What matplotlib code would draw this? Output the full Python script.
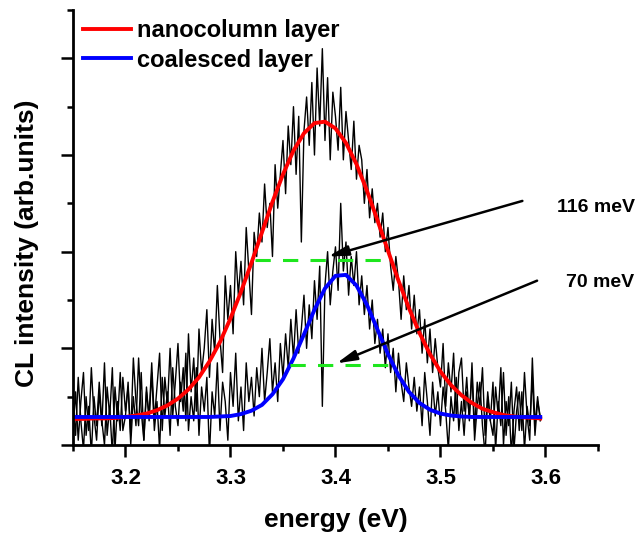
import numpy as np
import matplotlib
matplotlib.use("Agg")
import matplotlib.pyplot as plt
from matplotlib.ticker import MultipleLocator, NullFormatter

plt.rcParams['font.family'] = ['Liberation Sans', 'DejaVu Sans']
plt.rcParams['font.weight'] = 'bold'

# measured spectra, sampled every 2.5 meV from 3.150 to 3.595 eV
energy_raw = np.round(np.arange(179) * 0.0025 + 3.15, 4)

nanocolumn_raw = [
    0.3, 1.1, 0.1, 0.9, 1.5, 0.2, 0.8, -0.2, 1.0, 0.4,
    1.3, 0.5, 0.0, 1.2, 0.6, 1.6, -0.1, 0.9, 0.3, 1.4,
    0.7, 1.2, 0.2, 1.8, 0.9, 0.4, 1.5, 0.1, 1.1, 0.6,
    1.7, 0.5, 1.2, 1.9, 0.3, 1.4, 0.8, 2.0, 0.6, 1.3,
    2.1, 0.9, 1.6, 0.5, 2.3, 1.1, 1.8, 0.7, 2.4, 1.5,
    2.0, 2.8, 1.4, 2.6, 1.9, 3.3, 2.2, 1.5, 3.5, 2.6,
    3.3, 2.3, 4.0, 3.1, 3.8, 2.9, 4.5, 3.6, 2.7, 4.4,
    3.9, 4.8, 4.2, 5.4, 4.5, 5.0, 3.9, 5.8, 4.9, 5.6,
    6.3, 5.2, 6.6, 5.8, 7.0, 5.6, 6.8, 4.2, 6.5, 7.2,
    6.2, 7.5, 6.0, 7.8, 6.6, 8.2, 6.3, 7.6, 5.9, 7.3,
    6.8, 6.1, 7.4, 5.9, 6.9, 6.3, 5.7, 6.7, 5.5, 6.2,
    5.9, 5.0, 5.7, 4.7, 5.3, 4.6, 5.0, 4.3, 4.8, 4.0,
    4.5, 3.7, 3.2, 3.9, 3.4, 2.6, 3.5, 2.8, 3.3, 2.4,
    3.1, 2.3, 2.8, 1.9, 2.6, 1.7, 2.4, 1.5, 2.2, 1.6,
    1.2, 2.1, 0.8, 1.7, 1.1, 1.9, 0.6, 1.5, 1.8, 0.7,
    1.4, 0.5, 1.7, 0.3, 1.3, 0.8, 1.6, 0.2, 1.1, 0.5,
    1.3, -0.1, 0.9, 0.4, 1.5, 0.2, 1.0, -0.2, 0.7, 1.2,
    0.3, 1.1, -0.1, 0.8, 0.4, 1.4, 0.2, 0.9, 0.6,
]

coalesced_raw = [
    0.9, 0.2, 1.4, 0.5, -0.1, 1.0, 0.3, 1.6, 0.6, 0.1,
    1.1, 0.4, 1.7, 0.2, 0.8, -0.2, 1.2, 0.5, 1.5, 0.3,
    0.6, 1.3, 0.0, 1.0, 0.4, 1.8, 0.7, 0.1, 1.2, 0.5,
    1.5, 0.3, 0.9, -0.1, 1.4, 0.6, 1.1, 0.2, 1.6, 0.8,
    0.4, 1.3, 0.7, 1.9, 0.3, 1.0, 0.5, 1.6, 0.2, 1.2,
    0.7, 1.4, -0.2, 1.1, 0.6, 1.7, 0.3, 1.3, 0.9, 0.1,
    1.5, 0.8, 1.9, 0.5, 1.2, 0.3, 1.7, 0.9, 1.4, 0.6,
    1.6, 1.0, 2.0, 0.9, 1.5, 2.2, 1.1, 1.7, 0.9, 2.1,
    1.4, 2.3, 1.6, 2.6, 1.8, 2.8, 1.9, 2.4, 3.1, 2.0,
    2.9, 2.2, 3.4, 2.6, 3.7, 0.8, 3.3, 4.0, 2.9, 3.6,
    4.1, 3.2, 5.0, 3.6, 4.2, 3.1, 3.9, 3.3, 4.0, 2.9,
    3.5, 2.7, 3.3, 2.4, 3.0, 2.1, 2.6, 1.9, 2.4, 1.6,
    2.3, 1.5, 2.0, 1.1, 1.9, 1.3, 0.9, 1.7, 1.2, 0.8,
    1.4, 0.7, 1.2, 0.4, 1.5, 0.9, 0.2, 1.3, 0.6, 1.1,
    0.4, 1.2, 0.7, -0.1, 1.0, 0.5, 1.4, 0.3, 0.9, 0.2,
    1.1, 0.6, 1.5, 0.1, 0.8, 1.3, 0.4, -0.2, 1.0, 0.5,
    0.2, 1.2, 0.6, 1.6, 0.0, 0.9, 0.4, 1.3, -0.1, 0.7,
    1.1, 0.3, 1.5, 0.6, 0.1, 1.8, 0.4, 1.0, 0.5,
]

# fitted curves, read every 10 meV
energy_fit = [3.15, 3.16, 3.17, 3.18, 3.19, 3.20, 3.21, 3.22, 3.23, 3.24,
              3.25, 3.26, 3.27, 3.28, 3.29, 3.30, 3.31, 3.32, 3.33, 3.34,
              3.35, 3.36, 3.37, 3.38, 3.39, 3.40, 3.41, 3.42, 3.43, 3.44,
              3.45, 3.46, 3.47, 3.48, 3.49, 3.50, 3.51, 3.52, 3.53, 3.54,
              3.55, 3.56, 3.57, 3.58, 3.59, 3.595]
nanocolumn_fit = [0.54, 0.54, 0.55, 0.55, 0.56, 0.58, 0.61, 0.65, 0.72, 0.82,
                  0.96, 1.15, 1.40, 1.73, 2.13, 2.62, 3.17, 3.77, 4.40, 5.03,
                  5.60, 6.09, 6.45, 6.66, 6.69, 6.55, 6.25, 5.81, 5.26, 4.65,
                  4.02, 3.40, 2.83, 2.32, 1.88, 1.52, 1.24, 1.03, 0.87, 0.75,
                  0.68, 0.62, 0.59, 0.57, 0.56, 0.55]
coalesced_fit = [0.58, 0.58, 0.58, 0.58, 0.58, 0.58, 0.58, 0.58, 0.58, 0.58,
                 0.58, 0.58, 0.58, 0.58, 0.59, 0.60, 0.64, 0.71, 0.83, 1.05,
                 1.36, 1.79, 2.29, 2.80, 3.24, 3.50, 3.52, 3.30, 2.90, 2.39,
                 1.88, 1.44, 1.10, 0.87, 0.73, 0.65, 0.61, 0.59, 0.58, 0.58,
                 0.58, 0.58, 0.58, 0.58, 0.58, 0.58]

# FWHM markers: (x start, x end, level)
fwhm_nano = (3.323, 3.450, 3.83)
fwhm_coal = (3.357, 3.457, 1.66)

fig = plt.figure(figsize=(6.39, 5.35), dpi=100)
ax = fig.add_axes([0.1142, 0.1682, 0.8216, 0.8131])

ax.plot(energy_raw, nanocolumn_raw, color='black', lw=1.0)
ax.plot(energy_raw, coalesced_raw, color='black', lw=1.0)
ax.plot(energy_fit, nanocolumn_fit, color='#ff0000', lw=2.8, label='nanocolumn layer')
ax.plot(energy_fit, coalesced_fit, color='#0000ff', lw=2.8, label='coalesced layer')

for x0, x1, lvl in (fwhm_nano, fwhm_coal):
    ax.plot([x0, x1], [lvl, lvl], color='#1ee61e', lw=2.2, dashes=(5, 4))

arrow = dict(arrowstyle='-|>,head_length=0.6,head_width=0.15', lw=1.8,
             color='black', mutation_scale=20, shrinkA=0, shrinkB=0)
ax.annotate('', xy=(3.393, 3.90), xytext=(3.578, 5.05), arrowprops=arrow)
ax.annotate('', xy=(3.401, 1.69), xytext=(3.592, 3.40), arrowprops=arrow)
ax.text(3.611, 4.91, '116 meV', fontsize=14, fontweight='bold', va='center',
        ha='left', clip_on=False)
ax.text(3.620, 3.36, '70 meV', fontsize=14, fontweight='bold', va='center',
        ha='left', clip_on=False)

ax.set_xlim(3.15, 3.65)
ax.set_ylim(0, 9)
ax.xaxis.set_major_locator(MultipleLocator(0.1))
ax.xaxis.set_minor_locator(MultipleLocator(0.05))
ax.yaxis.set_major_locator(MultipleLocator(2))
ax.yaxis.set_minor_locator(MultipleLocator(1))
ax.yaxis.set_major_formatter(NullFormatter())
ax.set_xticks([3.2, 3.3, 3.4, 3.5, 3.6])
ax.set_xticklabels(['3.2', '3.3', '3.4', '3.5', '3.6'])

for s in ('top', 'right'):
    ax.spines[s].set_visible(False)
for s in ('left', 'bottom'):
    ax.spines[s].set_linewidth(2.0)
ax.tick_params(which='major', direction='out', length=8.5, width=1.8,
               labelsize=16, pad=8)
ax.tick_params(which='minor', direction='out', length=4.5, width=1.8)

ax.set_xlabel('energy (eV)', fontsize=19, fontweight='bold', labelpad=14)
ax.set_ylabel('CL intensity (arb.units)', fontsize=19, fontweight='bold')
ax.yaxis.set_label_coords(-0.064, 0.464)

ax.legend(loc='upper left', bbox_to_anchor=(0.02, 0.979), frameon=False,
          fontsize=17, handlelength=2.0, handletextpad=0.25,
          labelspacing=0.28, borderpad=0, borderaxespad=0)

fig.savefig('out.png', dpi=100, facecolor='white')
